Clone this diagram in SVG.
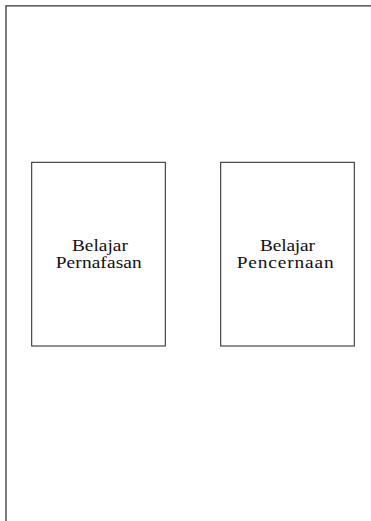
<svg xmlns="http://www.w3.org/2000/svg" width="371" height="521" viewBox="0 0 371 521">
<style>
.frame{fill:none;stroke:#333;stroke-width:1.3}
.box{fill:#fff;stroke:#222;stroke-width:1}
.lbl{font-family:"Liberation Serif","Times New Roman",serif;font-size:17px;fill:#111;text-anchor:middle}
</style>
<rect width="371" height="521" fill="#fff"/>
<path class="frame" d="M6 530 V5.8 H380"/>
<g id="node-pernafasan">
<rect class="box" x="31.7" y="162.3" width="133.6" height="183.7"/>
<text class="lbl" transform="translate(99.9 251) scale(1.14 1)" x="0" y="0" textLength="49.1" lengthAdjust="spacing">Belajar</text>
<text class="lbl" transform="translate(98.7 268) scale(1.14 1)" x="0" y="0" textLength="75.4" lengthAdjust="spacing">Pernafasan</text>
</g>
<g id="node-pencernaan">
<rect class="box" x="220.7" y="162.3" width="133.6" height="183.7"/>
<text class="lbl" transform="translate(287.5 251) scale(1.14 1)" x="0" y="0" textLength="48.2" lengthAdjust="spacing">Belajar</text>
<text class="lbl" transform="translate(285.2 268) scale(1.14 1)" x="0" y="0" textLength="85.1" lengthAdjust="spacing">Pencernaan</text>
</g>
<g id="connectors"/>
</svg>
